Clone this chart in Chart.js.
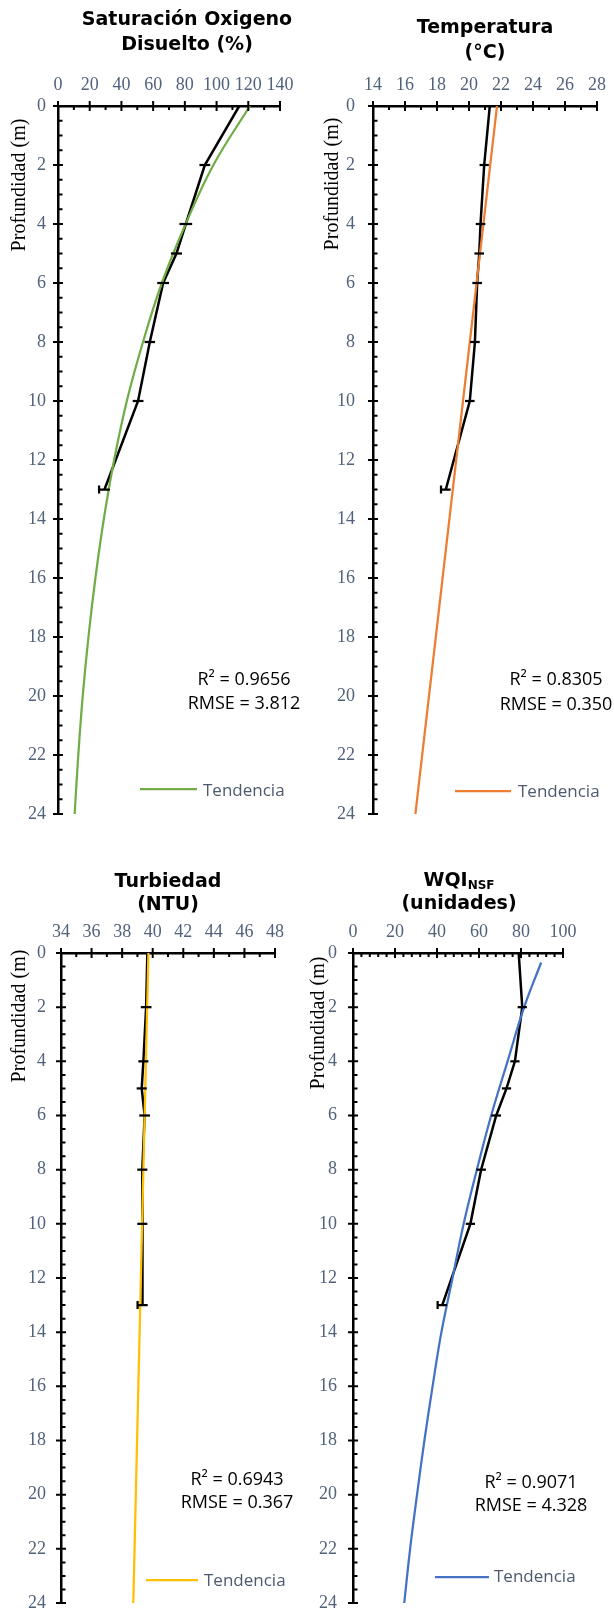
<!DOCTYPE html>
<html>
<head>
<meta charset="utf-8">
<script src="https://cdn.jsdelivr.net/npm/chart.js@4.4.1/dist/chart.umd.min.js"></script>
<style>
  html, body { margin: 0; padding: 0; background: #ffffff; }
  body { width: 614px; height: 1613px; position: relative; overflow: hidden; }
  canvas { position: absolute; display: block; }
</style>
</head>
<body>
<canvas id="cOx" width="307" height="830" style="left:0px;top:0px;width:307px;height:830px"></canvas>
<canvas id="cTemp" width="307" height="830" style="left:307px;top:0px;width:307px;height:830px"></canvas>
<canvas id="cTurb" width="307" height="783" style="left:0px;top:830px;width:307px;height:783px"></canvas>
<canvas id="cWqi" width="307" height="783" style="left:307px;top:830px;width:307px;height:783px"></canvas>
<script>
// ---------- DATA ----------
const depthTicks = [0, 2, 4, 6, 8, 10, 12, 14, 16, 18, 20, 22, 24];
const depths = [0, 2, 4, 5, 6, 8, 10, 13];

// Saturación Oxígeno Disuelto (%)
const oxTicks = [0, 20, 40, 60, 80, 100, 120, 140];
const oxValues = [114.3, 92.6, 80.6, 74.7, 66.3, 57.9, 50.5, 29.3];
const oxErrors = [null, 3.4, 4.0, 3.5, 3.7, 3.3, 3.4, 3.4];
const oxTrendDepths = [0, 2, 4, 6, 8, 10, 12, 14, 16, 18, 20, 22, 24];
const oxTrendValues = [121, 98, 80.5, 65.5, 53.6, 43.4, 35.4, 28.9, 23.6, 19.2, 15.6, 12.8, 10.5];
const oxStats = ['R² = 0.9656', 'RMSE = 3.812'];

// Temperatura (°C)
const tempTicks = [14, 16, 18, 20, 22, 24, 26, 28];
const tempValues = [21.3, 20.95, 20.72, 20.64, 20.51, 20.37, 20.05, 18.55];
const tempErrors = [null, 0.29, 0.3, 0.3, 0.3, 0.3, 0.3, 0.3];
const tempTrendDepths = [0, 24];
const tempTrendValues = [21.75, 16.65];
const tempStats = ['R² = 0.8305', 'RMSE = 0.350'];

// Turbiedad (NTU)
const turbTicks = [34, 36, 38, 40, 42, 44, 46, 48];
const turbValues = [39.65, 39.57, 39.39, 39.28, 39.47, 39.32, 39.32, 39.34];
const turbErrors = [null, 0.35, 0.33, 0.33, 0.35, 0.33, 0.33, 0.33];
const turbTrendDepths = [0, 24];
const turbTrendValues = [39.72, 38.73];
const turbStats = ['R² = 0.6943', 'RMSE = 0.367'];

// WQI NSF (unidades)
const wqiTicks = [0, 20, 40, 60, 80, 100];
const wqiValues = [78.9, 80.6, 77.1, 73.1, 68.2, 61.0, 55.9, 42.5];
const wqiErrors = [null, 2.2, 2.2, 2.2, 2.3, 2.3, 2.2, 2.2];
const wqiTrendDepths = [0.35, 2, 4, 6, 8, 10, 12, 14, 16, 18, 20, 22, 24];
const wqiTrendValues = [89.6, 81.5, 73.6, 65.8, 59.0, 52.7, 47.4, 42.1, 37.9, 34.0, 30.5, 27.2, 24.4];
const wqiStats = ['R² = 0.9071', 'RMSE = 4.328'];

const legendLabel = 'Tendencia';
const yAxisTitle = 'Profundidad (m)';

// ---------- STYLE ----------
const TICK_COLOR = '#52627b';
const LEGEND_COLOR = '#4d5a6e';
const SERIF = '"Liberation Serif", "Times New Roman", serif';
const SANS_BOLD = '"DejaVu Sans", Verdana, sans-serif';
const SANS = '"Open Sans", "Liberation Sans", sans-serif';
const X_AXIS_BOX = 40;

const decor = {
  id: 'decor',
  afterDatasetsDraw(chart) {
    const ctx = chart.ctx;
    const xs = chart.scales.x, ys = chart.scales.y;
    chart.data.datasets.forEach(ds => {
      if (!ds.errors) return;
      ctx.save();
      ctx.strokeStyle = '#000';
      ctx.lineWidth = 2.25;
      const last = ds.data.length - 1;
      ds.data.forEach((p, i) => {
        const e = ds.errors[i];
        if (e == null) return;
        const x1 = xs.getPixelForValue(p.x - e), x2 = xs.getPixelForValue(p.x + e);
        const y = ys.getPixelForValue(p.y);
        ctx.beginPath();
        ctx.moveTo(x1, y); ctx.lineTo(x2, y);
        if (i === last) { ctx.moveTo(x1, y - 4); ctx.lineTo(x1, y + 4); }
        ctx.stroke();
      });
      ctx.restore();
    });
  },
  afterDraw(chart) {
    const ctx = chart.ctx;
    const o = chart.options.plugins.decor;
    const xs = chart.scales.x, ys = chart.scales.y;
    const top = chart.chartArea.top, left = chart.chartArea.left;
    ctx.save();
    ctx.strokeStyle = '#000';
    ctx.lineWidth = 2;
    ctx.beginPath();
    o.xTicks.forEach(v => {
      const x = xs.getPixelForValue(v);
      ctx.moveTo(x, top - 5); ctx.lineTo(x, top + 5);
    });
    for (let v = o.xTicks[0]; v <= o.xTicks[o.xTicks.length - 1] + 1e-9; v += o.xMinor) {
      if (o.xTicks.some(t => Math.abs(t - v) < 1e-6)) continue;
      const x = xs.getPixelForValue(v);
      ctx.moveTo(x, top); ctx.lineTo(x, top + 4);
    }
    depthTicks.forEach(v => {
      const y = ys.getPixelForValue(v);
      ctx.moveTo(left - 5, y); ctx.lineTo(left + 5, y);
    });
    for (let v = 0; v <= 24; v += 0.5) {
      if (depthTicks.includes(v)) continue;
      const y = ys.getPixelForValue(v);
      ctx.moveTo(left, y); ctx.lineTo(left + 4.5, y);
    }
    ctx.stroke();

    // Title
    ctx.fillStyle = '#000';
    ctx.textAlign = 'center';
    ctx.textBaseline = 'alphabetic';
    ctx.font = 'bold 19px ' + SANS_BOLD;
    const T = o.title;
    if (T.sub) {
      ctx.textAlign = 'left';
      const wMain = ctx.measureText(T.lines[0]).width;
      ctx.font = 'bold 12px ' + SANS_BOLD;
      const wSub = ctx.measureText(T.sub).width;
      const x0 = T.x - (wMain + wSub) / 2;
      ctx.font = 'bold 19px ' + SANS_BOLD;
      ctx.fillText(T.lines[0], x0, T.y[0]);
      ctx.font = 'bold 12px ' + SANS_BOLD;
      ctx.fillText(T.sub, x0 + wMain, T.y[0] + 3);
      ctx.font = 'bold 19px ' + SANS_BOLD;
      ctx.textAlign = 'center';
      ctx.fillText(T.lines[1], T.x, T.y[1]);
    } else {
      T.lines.forEach((s, i) => ctx.fillText(s, T.x, T.y[i]));
    }

    // Y axis title
    ctx.save();
    ctx.translate(o.yTitle.x, o.yTitle.y);
    ctx.rotate(-Math.PI / 2);
    ctx.font = '20px ' + SERIF;
    ctx.textAlign = 'center';
    ctx.textBaseline = 'middle';
    ctx.fillStyle = '#000';
    ctx.fillText(yAxisTitle, 0, 0);
    ctx.restore();

    // Stats
    ctx.font = '18px ' + SANS;
    ctx.fillStyle = '#000';
    ctx.textAlign = 'center';
    o.stats.text.forEach((s, i) => ctx.fillText(s, o.stats.x, o.stats.y[i]));

    // Legend
    const L = o.legend;
    ctx.strokeStyle = chart.data.datasets[0].borderColor;
    ctx.lineWidth = 2.25;
    ctx.beginPath();
    ctx.moveTo(L.x1, L.y); ctx.lineTo(L.x2, L.y);
    ctx.stroke();
    ctx.font = '17px ' + SANS;
    ctx.fillStyle = LEGEND_COLOR;
    ctx.textAlign = 'left';
    ctx.fillText(legendLabel, L.tx, L.ty);
    ctx.restore();
  }
};

function makeChart(id, spec) {
  const cv = document.getElementById(id);
  const W = cv.width, H = cv.height, A = spec.area;
  return new Chart(cv, {
    type: 'scatter',
    data: {
      datasets: [
        {
          label: legendLabel,
          data: spec.trendDepths.map((d, i) => ({ x: spec.trendValues[i], y: d })),
          showLine: true, borderColor: spec.color, backgroundColor: spec.color,
          borderWidth: 2.25, pointRadius: 0, tension: spec.tension, fill: false
        },
        {
          label: 'Datos',
          data: depths.map((d, i) => ({ x: spec.values[i], y: d })),
          showLine: true, borderColor: '#000', backgroundColor: '#000',
          borderWidth: 2.5, pointRadius: 0, tension: 0, fill: false,
          errors: spec.errors
        }
      ]
    },
    options: {
      responsive: false, animation: false, events: [],
      layout: { padding: { left: 0, right: W - A.r, top: A.t - X_AXIS_BOX, bottom: H - A.b } },
      plugins: {
        legend: { display: false }, tooltip: { enabled: false }, title: { display: false },
        decor: spec.decor
      },
      scales: {
        x: {
          type: 'linear', position: 'top',
          min: spec.ticks[0], max: spec.ticks[spec.ticks.length - 1],
          afterBuildTicks: s => { s.ticks = spec.ticks.map(v => ({ value: v })); },
          afterFit: s => { s.height = X_AXIS_BOX; s.paddingLeft = 0; s.paddingRight = 0; s.paddingTop = 0; s.paddingBottom = 0; },
          grid: { display: false, drawTicks: false },
          border: { display: true, color: '#000', width: 2.5 },
          ticks: { padding: 10, color: TICK_COLOR, font: { family: SERIF, size: 18 }, maxRotation: 0, autoSkip: false }
        },
        y: {
          type: 'linear', reverse: true, min: 0, max: 24,
          afterBuildTicks: s => { s.ticks = depthTicks.map(v => ({ value: v })); },
          afterFit: s => { s.width = A.l; s.paddingLeft = 0; s.paddingRight = 0; s.paddingTop = 0; s.paddingBottom = 0; },
          grid: { display: false, drawTicks: false },
          border: { display: true, color: '#000', width: 2.5 },
          ticks: { padding: spec.yPad, color: TICK_COLOR, font: { family: SERIF, size: 18 }, autoSkip: false }
        }
      }
    },
    plugins: [decor]
  });
}

makeChart('cOx', {
  area: { l: 58, r: 280, t: 106, b: 814 },
  ticks: oxTicks, values: oxValues, errors: oxErrors,
  trendDepths: oxTrendDepths, trendValues: oxTrendValues,
  color: '#70ad47', tension: 0.4, yPad: 12,
  decor: {
    xTicks: oxTicks, xMinor: 10,
    title: { lines: ['Saturación Oxigeno', 'Disuelto (%)'], x: 187, y: [25, 50] },
    yTitle: { x: 20, y: 185 },
    stats: { text: oxStats, x: 244, y: [685, 709] },
    legend: { x1: 140, x2: 197, y: 789, tx: 203, ty: 796 }
  }
});

makeChart('cTemp', {
  area: { l: 66, r: 290, t: 106, b: 814 },
  ticks: tempTicks, values: tempValues, errors: tempErrors,
  trendDepths: tempTrendDepths, trendValues: tempTrendValues,
  color: '#ed7d31', tension: 0, yPad: 18,
  decor: {
    xTicks: tempTicks, xMinor: 1,
    title: { lines: ['Temperatura', '(°C)'], x: 178, y: [33, 58] },
    yTitle: { x: 26, y: 184 },
    stats: { text: tempStats, x: 249, y: [685, 710] },
    legend: { x1: 148, x2: 204, y: 791, tx: 211, ty: 797 }
  }
});

makeChart('cTurb', {
  area: { l: 61, r: 275, t: 123, b: 773 },
  ticks: turbTicks, values: turbValues, errors: turbErrors,
  trendDepths: turbTrendDepths, trendValues: turbTrendValues,
  color: '#ffc000', tension: 0, yPad: 15,
  decor: {
    xTicks: turbTicks, xMinor: 1,
    title: { lines: ['Turbiedad', '(NTU)'], x: 168, y: [57, 80] },
    yTitle: { x: 20, y: 186 },
    stats: { text: turbStats, x: 237, y: [655, 678] },
    legend: { x1: 146, x2: 198, y: 750, tx: 204, ty: 756 }
  }
});

makeChart('cWqi', {
  area: { l: 46, r: 256, t: 123, b: 773 },
  ticks: wqiTicks, values: wqiValues, errors: wqiErrors,
  trendDepths: wqiTrendDepths, trendValues: wqiTrendValues,
  color: '#4472c4', tension: 0.4, yPad: 16,
  decor: {
    xTicks: wqiTicks, xMinor: 4,
    title: { lines: ['WQI', '(unidades)'], sub: 'NSF', x: 152, y: [56, 79] },
    yTitle: { x: 12, y: 193 },
    stats: { text: wqiStats, x: 224, y: [658, 681] },
    legend: { x1: 128, x2: 182, y: 747, tx: 187, ty: 752 }
  }
});
</script>
</body>
</html>
